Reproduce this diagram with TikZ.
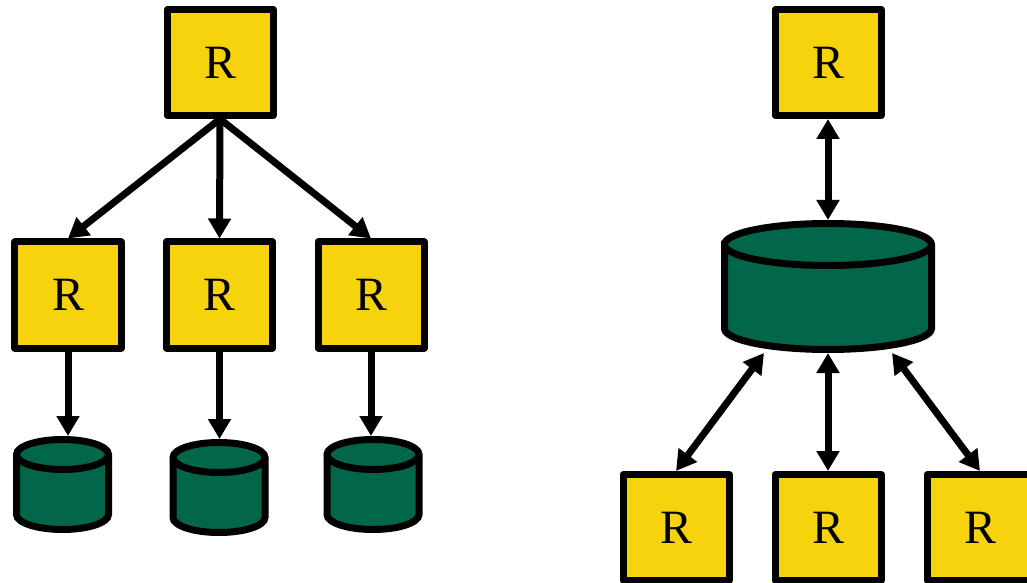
\documentclass[tikz,border=0pt]{standalone}
\usepackage{fontspec}
\setmainfont{Liberation Serif}
\usetikzlibrary{arrows.meta,calc}
\definecolor{ryellow}{HTML}{F7D30E}
\definecolor{dbgreen}{HTML}{02664B}
\begin{document}
\begin{tikzpicture}[x=1bp,y=-1bp]
	\tikzset{
		rbox/.style={draw, line width=7bp, fill=ryellow, minimum size=106bp, inner sep=0pt, line join=round, font=\fontsize{48}{50}\selectfont},
		hold/.style={inner sep=0pt, outer sep=0pt},
		store/.style={draw, line width=7bp, fill=dbgreen},
		push/.style={line width=7bp, -{Triangle[length=20bp,width=22bp]}},
		sync/.style={line width=7bp, {Triangle[length=20bp,width=22bp]}-{Triangle[length=20bp,width=22bp]}},
	}
	% store at (x,y), half width, half height, cap radius, name
	\def\Store(#1,#2,#3,#4,#5)#6{
		\node[hold, minimum width={2*#3bp+7bp}, minimum height={2*#4bp+7bp}] (#6) at (#1,#2) {};
		\draw[store] (#1-#3,#2-#4+#5) -- (#1-#3,#2+#4-#5)
			arc[start angle=180, end angle=0, x radius=#3, y radius=#5]
			-- (#1+#3,#2-#4+#5)
			arc[start angle=0, end angle=-180, x radius=#3, y radius=#5] -- cycle;
		\draw[line width=7bp] (#1-#3,#2-#4+#5) arc[start angle=180, end angle=0, x radius=#3, y radius=#5];
	}
	\useasboundingbox (0,0) rectangle (1027,583);
	
	% Left: one R hands out to three R, each with its own store.
	\node[rbox] (top) at (220,62.5) {R};
	\node[rbox] (r1) at (68,295) {R};
	\node[rbox] (r2) at (219.5,295) {R};
	\node[rbox] (r3) at (371,295) {R};
	\Store(62.5,484.5,46,45,15){d1}
	\Store(219,487.5,46,45,15){d2}
	\Store(373,484.5,46,45,15){d3}
	
	\draw[push] (top.south) -- (r1.north);
	\draw[push] (top.south) -- (r2.north);
	\draw[push] (top.south) -- (r3.north);
	\draw[push] (r1.south) -- (r1.south |- d1.north);
	\draw[push] (r2.south) -- (r2.south |- d2.north);
	\draw[push] (r3.south) -- (r3.south |- d3.north);
	
	% Right: all R share one store.
	\node[rbox] (rtop) at (828,62.5) {R};
	\Store(828,286.5,103.5,63,21){hub}
	\node[rbox] (b1) at (676,527.5) {R};
	\node[rbox] (b2) at (828,527.5) {R};
	\node[rbox] (b3) at (980,527.5) {R};
	
	\draw[sync] (rtop.south) -- (hub.north);
	\draw[sync] (b1.north) -- ($(hub.south)+(-64,0)$);
	\draw[sync] (b2.north) -- (hub.south);
	\draw[sync] (b3.north) -- ($(hub.south)+(64,0)$);
\end{tikzpicture}
\end{document}
